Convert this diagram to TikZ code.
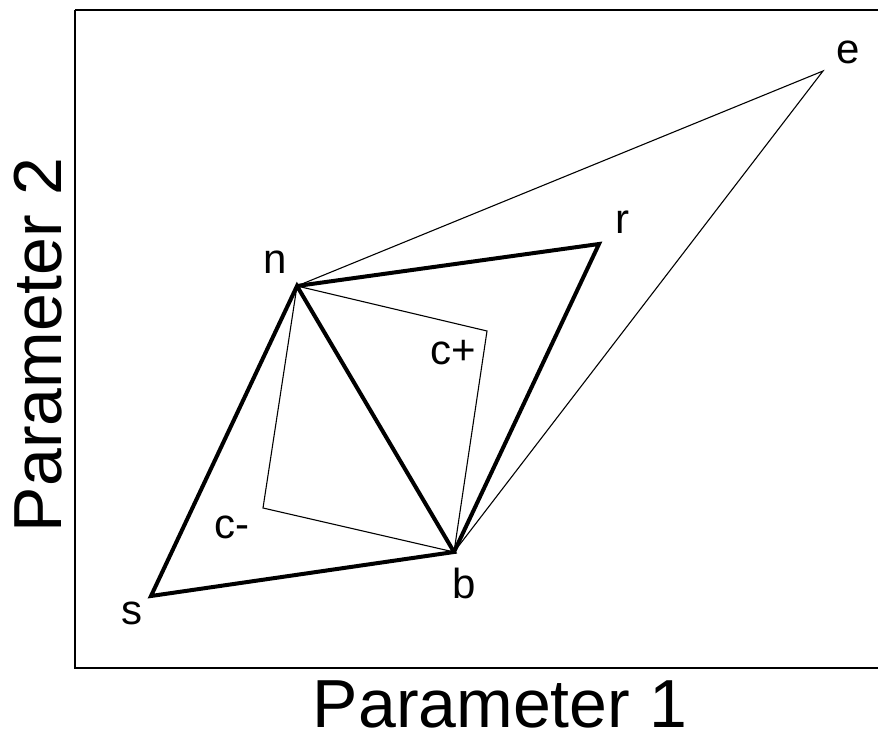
\documentclass[tikz,border=0pt]{standalone}
\usepackage{fontspec}
\setmainfont{Liberation Sans}
\usepackage{tikz}

\begin{document}
\begin{tikzpicture}[
    x=1pt, y=-1pt,
    thickedge/.style={line width=4pt, line join=miter},
    thinedge/.style={line width=1.1pt},
    lbl/.style={inner sep=0pt, font=\fontsize{42}{42}\selectfont},
    axislbl/.style={inner sep=0pt, anchor=base, font=\fontsize{68}{68}\selectfont}
]
\useasboundingbox (0,0) rectangle (878,735);
\draw[line width=1.3pt] (75,10) -- (880,10);
\draw[line width=1.3pt] (75,10) -- (75,668) -- (880,668);

% simplex vertices
\coordinate (n) at (297,286);
\coordinate (s) at (151,596);
\coordinate (b) at (454,552);
\coordinate (r) at (599,244);
\coordinate (e) at (823,71);
\coordinate (cp) at (487,331);
\coordinate (cm) at (263,508);

\node[lbl] (nlbl) at (275,262) {n};
\node[lbl] (slbl) at (132,613) {s};
\node[lbl] (blbl) at (464,583) {b};
\node[lbl] (rlbl) at (622,222) {r};
\node[lbl] (elbl) at (848,52) {e};
\node[lbl] (cplbl) at (453,353) {c+};
\node[lbl] (cmlbl) at (232,527) {c-};

\draw[thinedge] (n) -- (e) -- (b);
\draw[thinedge] (n) -- (cp) -- (b);
\draw[thinedge] (n) -- (cm) -- (b);
\draw[thickedge] (s) -- (n) -- (b) -- cycle;
\draw[thickedge] (n) -- (r) -- (b);

\node[axislbl] (xlbl) at (500,727) {Parameter 1};
\node[axislbl, rotate=90] (ylbl) at (61,345) {Parameter 2};
\end{tikzpicture}
\end{document}
